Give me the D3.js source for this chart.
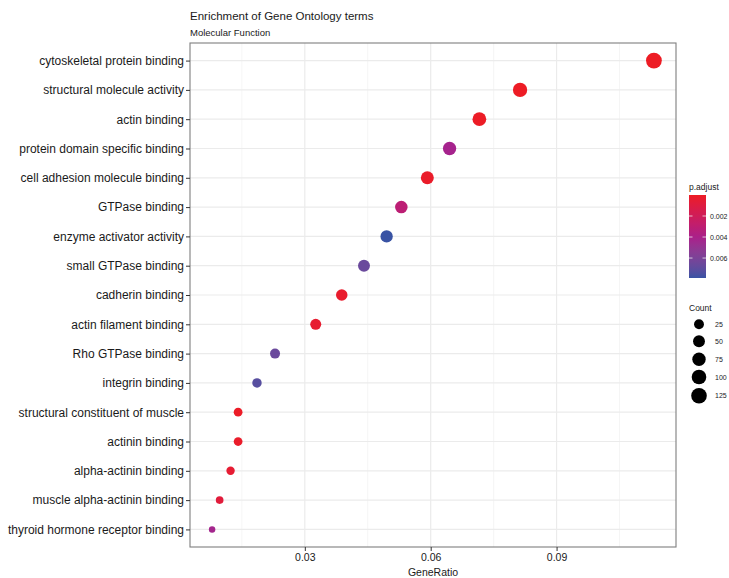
<!DOCTYPE html>
<html>
<head>
<meta charset="utf-8">
<script src="https://cdn.jsdelivr.net/npm/d3@7"></script>
<style>
  body { margin: 0; background: #fff; }
  text { font-family: "Liberation Sans", Arial, sans-serif; }
</style>
</head>
<body>
<script>
let width = 729,
    height = 578;

let terms = ["cytoskeletal protein binding", "structural molecule activity", "actin binding",
             "protein domain specific binding", "cell adhesion molecule binding", "GTPase binding",
             "enzyme activator activity", "small GTPase binding", "cadherin binding",
             "actin filament binding", "Rho GTPase binding", "integrin binding",
             "structural constituent of muscle", "actinin binding", "alpha-actinin binding",
             "muscle alpha-actinin binding", "thyroid hormone receptor binding"];
let geneRatio = [0.1132, 0.0813, 0.0716, 0.0645, 0.0592, 0.0530, 0.0495, 0.0441, 0.0388,
                 0.0326, 0.0229, 0.0186, 0.0141, 0.0141, 0.0123, 0.0097, 0.0079];
let counts = [129, 93, 82, 73, 67, 60, 56, 50, 44, 37, 26, 21, 16, 16, 14, 11, 9];
let pAdjust = [0.00001, 0.00002, 0.00005, 0.0042, 0.0002, 0.0031, 0.0079, 0.0066, 0.0003,
               0.0004, 0.0066, 0.0072, 0.0001, 0.0002, 0.0005, 0.0008, 0.0043];

let xTicks = [0.03, 0.06, 0.09];
let xMinor = [0.015, 0.045, 0.075, 0.105];
let pTicks = [0.002, 0.004, 0.006];
let countTicks = [25, 50, 75, 100, 125];

let dataset = terms.map(function(t, i) {
  return {term: t, ratio: geneRatio[i], count: counts[i], p: pAdjust[i]};
});

let margin = {top: 43, right: 53, bottom: 31, left: 190};
let pw = width - margin.left - margin.right,
    ph = height - margin.top - margin.bottom;

let svg = d3.select("body")
            .append("svg")
            .attr("width", width)
            .attr("height", height);

// scales
let ext = d3.extent(geneRatio);
let pad = (ext[1] - ext[0]) * 0.05;
let xScale = d3.scaleLinear()
               .domain([ext[0] - pad, ext[1] + pad])
               .range([0, pw]);

let yScale = d3.scalePoint()
               .domain(terms)
               .range([0, ph])
               .padding(0.6);

let colorScale = d3.scaleLinear()
                   .domain([0, 0.0041, 0.0079])
                   .range(["#ED1C24", "#A8208C", "#3953A4"])
                   .interpolate(d3.interpolateLab);

let sizeT = d3.scaleLinear().domain(d3.extent(counts)).range([0, 1]);
let dScale = d3.scaleLinear().domain([0, 1]).range([6.5, 15.8]);
function radius(v) {
  return dScale(Math.sqrt(Math.max(0, sizeT(v)))) / 2;
}

let g = svg.append("g")
           .attr("transform", "translate(" + margin.left + "," + margin.top + ")");

// grid
g.selectAll(".minor")
 .data(xMinor)
 .enter()
 .append("line")
 .attr("x1", function(d) { return xScale(d); })
 .attr("x2", function(d) { return xScale(d); })
 .attr("y1", 0)
 .attr("y2", ph)
 .attr("stroke", "#f3f3f3")
 .attr("stroke-width", 0.8);

g.selectAll(".major")
 .data(xTicks)
 .enter()
 .append("line")
 .attr("x1", function(d) { return xScale(d); })
 .attr("x2", function(d) { return xScale(d); })
 .attr("y1", 0)
 .attr("y2", ph)
 .attr("stroke", "#ebebeb")
 .attr("stroke-width", 1.2);

g.selectAll(".hgrid")
 .data(terms)
 .enter()
 .append("line")
 .attr("x1", 0)
 .attr("x2", pw)
 .attr("y1", function(d) { return yScale(d); })
 .attr("y2", function(d) { return yScale(d); })
 .attr("stroke", "#ebebeb")
 .attr("stroke-width", 1.2);

// points
g.selectAll("circle")
 .data(dataset)
 .enter()
 .append("circle")
 .attr("cx", function(d) { return xScale(d.ratio); })
 .attr("cy", function(d) { return yScale(d.term); })
 .attr("r", function(d) { return radius(d.count); })
 .attr("fill", function(d) { return colorScale(d.p); });

// panel border
g.append("rect")
 .attr("width", pw)
 .attr("height", ph)
 .attr("fill", "none")
 .attr("stroke", "#7f7f7f")
 .attr("stroke-width", 1.1);

// axes
let xAxis = g.append("g")
             .attr("transform", "translate(0," + ph + ")")
             .call(d3.axisBottom(xScale).tickValues(xTicks).tickFormat(d3.format(".2f")).tickSizeInner(4).tickSizeOuter(0).tickPadding(3));
let yAxis = g.append("g")
             .call(d3.axisLeft(yScale).tickSizeInner(4).tickSizeOuter(0).tickPadding(2));

[xAxis, yAxis].forEach(function(a) {
  a.select(".domain").remove();
  a.selectAll(".tick line").attr("stroke", "#333");
  a.selectAll(".tick text").attr("fill", "#1a1a1a")
   .style("font-family", "'Liberation Sans', Arial, sans-serif");
});
yAxis.selectAll(".tick text").style("font-size", "12px");
xAxis.selectAll(".tick text").style("font-size", "10.5px");

svg.append("text")
   .attr("x", margin.left + pw / 2)
   .attr("y", 576)
   .attr("text-anchor", "middle")
   .style("font-size", "10.5px")
   .attr("fill", "#1a1a1a")
   .text("GeneRatio");

// titles
svg.append("text")
   .attr("x", margin.left)
   .attr("y", 20)
   .style("font-size", "11.5px")
   .attr("fill", "#1a1a1a")
   .text("Enrichment of Gene Ontology terms");
svg.append("text")
   .attr("x", margin.left)
   .attr("y", 36)
   .style("font-size", "9.5px")
   .attr("fill", "#1a1a1a")
   .text("Molecular Function");

// colour legend
let lx = 689, barTop = 195, barH = 83, barW = 17;
let defs = svg.append("defs");
let grad = defs.append("linearGradient")
               .attr("id", "pgrad")
               .attr("x1", 0).attr("y1", 0).attr("x2", 0).attr("y2", 1);
d3.range(0, 1.0001, 0.05).forEach(function(t) {
  grad.append("stop")
      .attr("offset", t)
      .attr("stop-color", colorScale(t * 0.0079));
});

svg.append("text")
   .attr("x", lx)
   .attr("y", 190)
   .style("font-size", "8.5px")
   .attr("fill", "#1a1a1a")
   .text("p.adjust");

svg.append("rect")
   .attr("x", lx)
   .attr("y", barTop)
   .attr("width", barW)
   .attr("height", barH)
   .attr("fill", "url(#pgrad)");

let pScale = d3.scaleLinear().domain([0, 0.0079]).range([barTop, barTop + barH]);
let pt = svg.selectAll(".pt")
            .data(pTicks)
            .enter()
            .append("g");
pt.append("line")
  .attr("x1", lx).attr("x2", lx + 3.5)
  .attr("y1", function(d) { return pScale(d); })
  .attr("y2", function(d) { return pScale(d); })
  .attr("stroke", "#fff").attr("stroke-opacity", 0.7);
pt.append("line")
  .attr("x1", lx + barW - 3.5).attr("x2", lx + barW)
  .attr("y1", function(d) { return pScale(d); })
  .attr("y2", function(d) { return pScale(d); })
  .attr("stroke", "#fff").attr("stroke-opacity", 0.7);
pt.append("text")
  .attr("x", lx + barW + 4)
  .attr("y", function(d) { return pScale(d) + 2.5; })
  .style("font-size", "7px")
  .attr("fill", "#1a1a1a")
  .text(function(d) { return d3.format(".3f")(d); });

// size legend
svg.append("text")
   .attr("x", lx)
   .attr("y", 311)
   .style("font-size", "8.5px")
   .attr("fill", "#1a1a1a")
   .text("Count");

let sy = [324.3, 341.3, 359.3, 377, 395.7];
let sl = svg.selectAll(".sl")
            .data(countTicks)
            .enter()
            .append("g");
sl.append("circle")
  .attr("cx", 699)
  .attr("cy", function(d, i) { return sy[i]; })
  .attr("r", function(d) { return radius(d); })
  .attr("fill", "#000");
sl.append("text")
  .attr("x", 715)
  .attr("y", function(d, i) { return sy[i] + 2.5; })
  .style("font-size", "7px")
  .attr("fill", "#1a1a1a")
  .text(function(d) { return d; });
</script>
</body>
</html>
